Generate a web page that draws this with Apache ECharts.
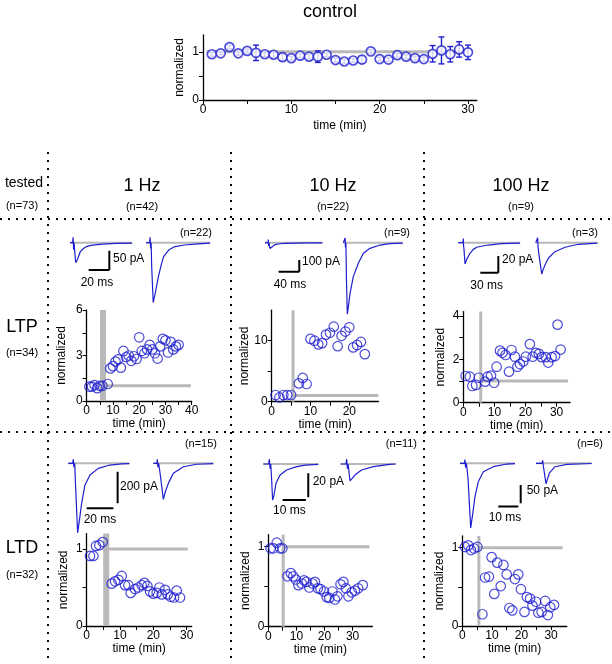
<!DOCTYPE html>
<html><head><meta charset="utf-8">
<script src="https://cdn.jsdelivr.net/npm/echarts@6/dist/echarts.min.js"></script>
<style>html,body{margin:0;padding:0;background:#fff}#c{width:612px;height:664px}</style>
</head><body><div id="c"></div>
<script>
const FONT = "'Liberation Sans', Arial, sans-serif";
const BLUE = '#1f1fcf';
const GRAY = '#b9b9b9';

// ---------- control ----------
const ctlTime = [1,2,3,4,5,6,7,8,9,10,11,12,13,14,15,16,17,18,19,20,21,22,23,24,25,26,27,28,29,30];
const ctlMean = [0.95,0.97,1.10,0.97,1.02,0.98,0.95,0.94,0.89,0.87,0.92,0.90,0.90,0.94,0.83,0.80,0.82,0.84,1.01,0.85,0.84,0.93,0.90,0.87,0.85,0.96,1.03,0.95,1.05,0.99];
const ctlErr  = [0.04,0.03,0.04,0.04,0.04,0.16,0.05,0.06,0.07,0.04,0.04,0.05,0.12,0.04,0.04,0.05,0.04,0.07,0.04,0.04,0.04,0.04,0.04,0.04,0.04,0.17,0.28,0.16,0.16,0.15];
const ctlRef  = [[0.4,1],[30,1]];

// ---------- LTP 1 Hz ----------
const ltp1Time = [1,2,3,4,5,6,8,9,10,11,12,13,14,15,16,17,18,19,20,21,22,23,24,25,26,27,28,29,30,31,32,33,34,35];
const ltp1Val  = [0.95,0.95,1.05,0.85,1.0,1.0,1.12,2.15,2.3,2.6,2.75,2.2,3.3,2.9,3.0,2.65,2.95,2.77,4.2,3.3,3.15,3.4,3.7,3.4,3.15,2.8,3.6,4.1,4.0,3.2,3.9,3.4,3.6,3.7];
// ---------- LTP 10 Hz ----------
const ltp10Time = [1,2,3,4,5,7,8,9,10,11,12,13,14,15,16,17,18,19,20,21,22,23,24];
const ltp10Val  = [1.1,0.7,1.1,1.1,1.1,3.0,3.9,2.9,10.3,10.0,9.4,9.6,11.0,11.3,12.3,9.1,10.8,11.5,12.2,8.9,9.3,9.8,7.8];
// ---------- LTP 100 Hz ----------
const ltp100Time = [0.75,2.1,2.9,4.1,5.0,7.0,7.8,8.9,9.9,10.7,11.8,12.6,13.6,14.7,15.5,16.6,17.4,18.2,19.3,20.1,21.4,22.3,23.3,24.3,25.2,26.5,27.3,28.4,29.5,30.3,31.3];
const ltp100Val  = [1.23,1.2,0.77,0.82,1.15,0.97,1.2,1.25,0.92,1.66,2.4,2.3,2.2,1.43,2.43,2.12,1.66,1.78,1.9,2.12,2.7,2.12,2.3,2.25,2.1,2.1,1.85,2.1,2.15,3.6,2.45];
// ---------- LTD 1 Hz ----------
const ltd1Time = [1,2,2.8,3.8,4.8,7.5,8.5,9.5,10.5,11.5,12.5,13.2,14.5,15.5,16.5,17.3,18.2,19,20,21,21.8,22.5,23.5,24.3,25.2,26.2,27,28];
const ltd1Val  = [0.91,0.91,1.04,1.05,1.09,0.55,0.58,0.6,0.65,0.53,0.53,0.43,0.48,0.5,0.53,0.56,0.52,0.45,0.42,0.43,0.5,0.41,0.47,0.41,0.38,0.37,0.46,0.37];
// ---------- LTD 10 Hz ----------
const ltd10Time = [0.8,1.8,3,4.2,5,6.8,8,8.9,9.8,10.7,11.9,12.7,13.6,14.6,15.8,16.6,17.6,18.6,19.8,20.8,21.7,22.8,23.7,24.6,25.7,26.7,27.6,28.5,29.7,30.8,32,33.6];
const ltd10Val  = [0.98,0.98,1.05,0.98,0.98,0.63,0.67,0.63,0.59,0.52,0.54,0.58,0.56,0.49,0.54,0.56,0.48,0.47,0.44,0.37,0.36,0.44,0.34,0.38,0.53,0.56,0.48,0.38,0.43,0.45,0.48,0.52];
// ---------- LTD 100 Hz ----------
const ltd100Time = [0.9,2,2.9,4,5.1,6.8,7.7,9,9.9,10.8,11.8,13,13.9,15,15.9,16.9,17.8,18.9,19.8,21,21.8,22.9,23.7,24.9,25.7,26.8,28,28.9,29.7,31];
const ltd100Val  = [1.01,1.03,0.97,0.99,1.01,0.15,0.62,0.63,0.88,0.41,0.81,0.51,0.78,0.66,0.23,0.2,0.6,0.66,0.47,0.18,0.37,0.35,0.26,0.31,0.17,0.18,0.32,0.14,0.24,0.27];

// reference lines (stimulation time, normalized = 1)
const ltp1VRef = [[6.2,0],[6.2,6]],   ltp1HRef = [[7.3,1],[39.7,1]];
const ltp10VRef = [[5.5,0],[5.5,15]], ltp10HRef = [[5.5,1],[27.5,1]];
const ltp100VRef = [[5.6,0],[5.6,4.2]], ltp100HRef = [[5.6,1],[33.7,1]];
const ltd1VRef = [[5.85,0],[5.85,1.2]], ltd1HRef = [[6.7,1],[30.3,1]];
const ltd10VRef = [[5.3,0],[5.3,1.15]], ltd10HRef = [[5.3,1],[36,1]];
const ltd100VRef = [[5.6,0],[5.6,1.15]], ltd100HRef = [[5.6,1],[33.9,1]];

// tick labels
const ctlXLabels = [0,10,20,30], ctlYLabels = [0,1];
const ltp1XLabels = [0,10,20,30,40], ltp1YLabels = [0,3,6];
const ltp10XLabels = [0,10,20], ltp10YLabels = [0,10];
const ltp100XLabels = [0,10,20,30], ltp100YLabels = [0,2,4];
const ltdXLabels = [0,10,20,30], ltdYLabels = [0,1];

// ---------- EPSC traces: [ms, pA] ----------
const ltp1Before = [[0,0],[2.5,0],[3,14],[3.5,-18],[4,0],[4.5,-20],[5.5,-52],[7,-45],[10,-23],[13,-15],[16,-10],[20,-7],[26,-5],[35,-3],[45,-2],[60,-1]];
const ltp1After  = [[0,0],[3.5,0],[4,14],[4.5,-15],[5,0],[5.5,-60],[7,-155],[9,-130],[12,-88],[15,-55],[17,-36],[22,-19],[27,-11],[37,-6],[50,-3],[62,-1]];
const ltp10Before = [[0,0],[6,0],[6.4,28],[7,-28],[8,0],[8.6,-30],[9.7,-49],[12,-35],[19,-17],[28,-9],[39,-5],[60,-3],[85,-2],[111,-1]];
const ltp10After  = [[0,0],[3,0],[3.5,40],[4,-40],[5,0],[6,-300],[7.7,-610],[10,-540],[13,-433],[19.3,-290],[29,-176],[38.7,-91],[51.6,-48],[71,-20],[90,-8],[115,-3]];
const ltp100Before = [[0,0],[7.8,0],[8.3,5],[8.8,-4],[9.5,-8],[11.2,-25.6],[14,-20],[19.5,-12.7],[25,-8],[30.7,-5.5],[40,-4],[50,-2.8],[72,-1],[103,-0.5]];
const ltp100After  = [[0,0],[2.8,0],[3.3,6],[3.8,-4],[5,-12],[10,-37.6],[12.5,-32],[15.5,-26.8],[21,-18.7],[32,-10.8],[49,-5.5],[71,-1.9],[103,-0.5]];
const ltd1Before = [[0,0],[3.3,0],[3.75,25],[4.2,-25],[4.8,0],[5.5,-150],[7,-440],[8.5,-350],[10,-253],[12.5,-137],[16.3,-74],[22.5,-32],[31,-11],[40,-4],[45.8,-2]];
const ltd1After  = [[0,0],[2.6,0],[3,25],[3.4,-25],[4,0],[5,-60],[7.5,-228],[9,-180],[11.25,-127],[15,-63],[22.5,-22],[32.5,-6],[45,-2]];
const ltd10Before = [[0,0],[2.3,0],[2.6,4],[2.9,-4],[3.2,0],[3.5,-10],[4,-30],[4.6,-26],[5.45,-16],[7.2,-9.2],[10,-5],[14.3,-2.2],[18,-1],[23.6,-0.3]];
const ltd10After  = [[0,0],[2.3,0],[2.6,4],[2.9,-4],[3.2,0],[3.5,-5],[4,-14],[5,-12],[6.2,-9],[9,-5],[14,-2.2],[21,-0.3],[23.6,0]];
const ltd100Before = [[0,0],[2.2,0],[2.5,10],[2.8,-12],[3.2,0],[4,-40],[5.35,-176],[6.3,-140],[7.5,-91],[9.15,-50],[11.65,-23],[16.65,-9.3],[23.35,-2],[27.5,-1]];
const ltd100After  = [[0,0],[3,0],[3.35,8],[3.7,-8],[4.1,-10],[5,-56],[6.65,-27],[9.5,-9.3],[15.35,-2.7],[27.85,-0.5]];

// scale bars [ms, pA]
const ltp1Bar = [20, 50], ltp10Bar = [40, 100], ltp100Bar = [30, 20];
const ltd1Bar = [20, 200], ltd10Bar = [10, 20], ltd100Bar = [10, 50];

// ---------- building ----------
const grids = [], xAxes = [], yAxes = [], series = [], graphics = [];
const axisLineStyle = {show:true, lineStyle:{color:'#000', width:1.3}};
const labelBase = {color:'#000', fontSize:12, fontFamily:FONT, margin:4};
const nameStyle = {color:'#000', fontSize:12, fontFamily:FONT};

function ticksFor(labels, step) {
  const out = [];
  for (let v = labels[0]; v <= labels[labels.length-1] + 1e-9; v += step) out.push(+v.toFixed(4));
  return out;
}

function addScatterPanel(p) {
  const gi = grids.length;
  grids.push({left:p.left, top:p.top, width:p.w, height:p.h});
  xAxes.push({gridIndex:gi, type:'value', min:0, max:p.xMax,
    name:'time (min)', nameLocation:'middle', nameGap:p.xGap || 17, nameTextStyle:nameStyle,
    axisLine:axisLineStyle, splitLine:{show:false},
    axisTick:{show:true, length:4, lineStyle:{color:'#000', width:1}, customValues:ticksFor(p.xLabels, p.xMinor)},
    axisLabel:Object.assign({}, labelBase, {customValues:p.xLabels})});
  yAxes.push({gridIndex:gi, type:'value', min:0, max:p.yMax,
    name:'normalized', nameLocation:'middle', nameGap:p.yGap || 19, nameTextStyle:nameStyle,
    axisLine:axisLineStyle, splitLine:{show:false},
    axisTick:{show:true, length:4, lineStyle:{color:'#000', width:1}, customValues:ticksFor(p.yLabels, p.yMinor)},
    axisLabel:Object.assign({}, labelBase, {customValues:p.yLabels})});
  if (p.vRef) series.push({type:'line', xAxisIndex:gi, yAxisIndex:gi, data:p.vRef, showSymbol:false, silent:true,
    lineStyle:{color:GRAY, width:p.vWidth}, z:1});
  if (p.hRef) series.push({type:'line', xAxisIndex:gi, yAxisIndex:gi, data:p.hRef, showSymbol:false, silent:true,
    lineStyle:{color:GRAY, width:3}, z:1});
  series.push({type:'scatter', xAxisIndex:gi, yAxisIndex:gi, symbol:'circle', symbolSize:p.symSize || 9.5,
    data:p.time.map((t,i)=>[t, p.val[i]]),
    itemStyle:{color:'rgba(0,0,0,0)', borderColor:BLUE, borderWidth:p.symBorder || 1.2}, z:5});
  return gi;
}

function addTracePanel(t) {
  const gi = grids.length;
  grids.push({left:t.x0, top:t.y0 - t.pAmax*t.ppa, width:t.tMax*t.pms, height:(t.pAmax - t.pAmin)*t.ppa});
  xAxes.push({gridIndex:gi, type:'value', min:0, max:t.tMax, show:false});
  yAxes.push({gridIndex:gi, type:'value', min:t.pAmin, max:t.pAmax, show:false});
  const shift = (arr, off) => arr.map(d => [d[0] + off, d[1]]);
  const end1 = t.before[t.before.length-1][0], end2 = t.after[t.after.length-1][0];
  const line = (data, color, width, z) => ({type:'line', xAxisIndex:gi, yAxisIndex:gi, data, showSymbol:false,
    silent:true, animation:false, lineStyle:{color, width}, z});
  series.push(line([[0,0],[end1,0]], GRAY, 2, 2));
  series.push(line([[t.off2,0],[t.off2 + end2,0]], GRAY, 2, 2));
  series.push(line(t.before, BLUE, 1.2, 3));
  series.push(line(shift(t.after, t.off2), BLUE, 1.2, 3));
  // scale bar
  const [ms, pa] = t.bar;
  series.push(line([[t.hx, t.hy],[t.hx + ms, t.hy]], '#000', 2, 4));
  series.push(line([[t.vx, t.vy],[t.vx, t.vy - pa]], '#000', 2, 4));
  graphics.push({type:'text', left:t.paX, top:t.paY - 8, style:{text:pa + ' pA', fill:'#000', font:'12px ' + FONT}});
  graphics.push({type:'text', x:t.msX, y:t.msY, style:{text:ms + ' ms', fill:'#000', font:'12px ' + FONT, textAlign:'center', textVerticalAlign:'middle'}});
  graphics.push({type:'text', x:t.nX, y:t.nY, style:{text:t.nText, fill:'#000', font:'11px ' + FONT, textAlign:'right', textVerticalAlign:'middle'}});
}

// control grid
(function(){
  const gi = grids.length;
  grids.push({left:203, top:35, width:273.8, height:65});
  xAxes.push({gridIndex:gi, type:'value', min:0, max:31, name:'time (min)', nameLocation:'middle', nameGap:20,
    nameTextStyle:nameStyle, axisLine:axisLineStyle, splitLine:{show:false},
    axisTick:{show:true, length:4, lineStyle:{color:'#000'}, customValues:ticksFor(ctlXLabels,5)},
    axisLabel:Object.assign({}, labelBase, {customValues:ctlXLabels})});
  yAxes.push({gridIndex:gi, type:'value', min:0, max:1.35, name:'normalized', nameLocation:'middle', nameGap:17,
    nameTextStyle:nameStyle, axisLine:axisLineStyle, splitLine:{show:false},
    axisTick:{show:true, length:4, lineStyle:{color:'#000'}, customValues:ticksFor(ctlYLabels,0.5)},
    axisLabel:Object.assign({}, labelBase, {customValues:ctlYLabels})});
  series.push({type:'line', xAxisIndex:gi, yAxisIndex:gi, data:ctlRef, showSymbol:false, silent:true, lineStyle:{color:GRAY, width:3}, z:1});
  series.push({type:'custom', xAxisIndex:gi, yAxisIndex:gi, silent:true, z:4,
    data: ctlTime.map((t,i)=>[t, ctlMean[i]-ctlErr[i], ctlMean[i]+ctlErr[i]]),
    encode:{x:0, y:[1,2]},
    renderItem:(params, api)=>{
      const lo = api.coord([api.value(0), api.value(1)]);
      const hi = api.coord([api.value(0), api.value(2)]);
      const w = 3, st = {stroke:BLUE, lineWidth:1.4};
      return {type:'group', children:[
        {type:'line', shape:{x1:lo[0], y1:lo[1], x2:hi[0], y2:hi[1]}, style:st},
        {type:'line', shape:{x1:lo[0]-w, y1:lo[1], x2:lo[0]+w, y2:lo[1]}, style:st},
        {type:'line', shape:{x1:hi[0]-w, y1:hi[1], x2:hi[0]+w, y2:hi[1]}, style:st}]};
    }});
  series.push({type:'scatter', xAxisIndex:gi, yAxisIndex:gi, symbol:'circle', symbolSize:9,
    data: ctlTime.map((t,i)=>[t, ctlMean[i]]),
    itemStyle:{color:'#ffffff', borderColor:BLUE, borderWidth:1.7}, z:5});
})();

addScatterPanel({left:86.7, top:310, w:105, h:91, xMax:40, yMax:6, xLabels:ltp1XLabels, xMinor:5, yLabels:ltp1YLabels, yMinor:1.5,
  time:ltp1Time, val:ltp1Val, vRef:ltp1VRef, vWidth:6, hRef:ltp1HRef, yGap:19});
addScatterPanel({left:271.7, top:310.2, w:106.7, h:91.5, xMax:27.5, yMax:15, xLabels:ltp10XLabels, xMinor:5, yLabels:ltp10YLabels, yMinor:5,
  time:ltp10Time, val:ltp10Val, vRef:ltp10VRef, vWidth:3, hRef:ltp10HRef, yGap:19});
addScatterPanel({left:463.3, top:311.6, w:106.7, h:91.1, xMax:34.3, yMax:4.2, xLabels:ltp100XLabels, xMinor:5, yLabels:ltp100YLabels, yMinor:1,
  time:ltp100Time, val:ltp100Val, vRef:ltp100VRef, vWidth:3, hRef:ltp100HRef, yGap:17});
addScatterPanel({left:86.7, top:533.6, w:105, h:92.4, xMax:31.5, yMax:1.2, xLabels:ltdXLabels, xMinor:5, yLabels:ltdYLabels, yMinor:0.5,
  time:ltd1Time, val:ltd1Val, vRef:ltd1VRef, vWidth:6, hRef:ltd1HRef, yGap:17});
addScatterPanel({left:268.3, top:534.7, w:104, h:92, xMax:37, yMax:1.15, xLabels:ltdXLabels, xMinor:5, yLabels:ltdYLabels, yMinor:0.5,
  time:ltd10Time, val:ltd10Val, vRef:ltd10VRef, vWidth:3, hRef:ltd10HRef, yGap:17});
addScatterPanel({left:462.3, top:536, w:104.5, h:90, xMax:35.3, yMax:1.15, xLabels:ltdXLabels, xMinor:5, yLabels:ltdYLabels, yMinor:0.5,
  time:ltd100Time, val:ltd100Val, vRef:ltd100VRef, vWidth:3, hRef:ltd100HRef, yGap:17});

// trace panels
addTracePanel({x0:70, y0:242.7, pms:1.035, ppa:0.386, tMax:137, pAmin:-165, pAmax:20,
  before:ltp1Before, after:ltp1After, off2:73.4, bar:ltp1Bar, hx:18, hy:-70.7, vx:38, vy:-20.7,
  paX:113, paY:260.7, msX:97, msY:282.7, nX:212, nY:232.7, nText:'(n=22)'});
addTracePanel({x0:265, y0:242.7, pms:0.517, ppa:0.117, tMax:280, pAmin:-640, pAmax:60,
  before:ltp10Before, after:ltp10After, off2:151.5, bar:ltp10Bar, hx:26.3, hy:-248, vx:66.3, vy:-148,
  paX:302, paY:264, msX:290, msY:285, nX:410, nY:232.7, nText:'(n=9)'});
addTracePanel({x0:458.3, y0:242.7, pms:0.6, ppa:0.833, tMax:236, pAmin:-40, pAmax:10,
  before:ltp100Before, after:ltp100After, off2:129, bar:ltp100Bar, hx:36.7, hy:-36, vx:66.7, vy:-16,
  paX:502, paY:261.7, msX:486.7, msY:286, nX:598, nY:232.7, nText:'(n=3)'});
addTracePanel({x0:68.3, y0:463.3, pms:1.333, ppa:0.158, tMax:111.5, pAmin:-450, pAmax:30,
  before:ltd1Before, after:ltd1After, off2:63.8, bar:ltd1Bar, hx:13.8, hy:-285, vx:37, vy:-53,
  paX:120, paY:488.3, msX:100, msY:519.3, nX:217, nY:444, nText:'(n=15)'});
addTracePanel({x0:263.3, y0:464, pms:2.33, ppa:1.2, tMax:66.4, pAmin:-33, pAmax:6,
  before:ltd10Before, after:ltd10After, off2:33.2, bar:ltd10Bar, hx:8.3, hy:-30, vx:19.3, vy:-7.75,
  paX:312.7, paY:484, msX:289.3, msY:510.7, nX:417, nY:444, nText:'(n=11)'});
addTracePanel({x0:460, y0:463.3, pms:2, ppa:0.367, tMax:72, pAmin:-185, pAmax:15,
  before:ltd100Before, after:ltd100After, off2:38, bar:ltd100Bar, hx:19.15, hy:-118, vx:30.35, vy:-59,
  paX:526.7, paY:492.3, msX:505, msY:517.3, nX:603, nY:444, nText:'(n=6)'});

// dotted separators
const dot = {stroke:'#000', lineWidth:2, lineDash:[2,6]};
[[0,219,612,219],[0,432,612,432],[48,152,48,664],[231,152,231,664],[424,152,424,664]].forEach(s=>{
  graphics.push({type:'line', shape:{x1:s[0], y1:s[1], x2:s[2], y2:s[3]}, style:dot, silent:true});
});

// headers & labels
const txt = (x, y, text, size) => graphics.push({type:'text', x, y, style:{text, fill:'#000',
  font: size + 'px ' + FONT, textAlign:'center', textVerticalAlign:'middle'}});
txt(330, 12, 'control', 18);
txt(24, 183, 'tested', 14);
txt(22, 206, '(n=73)', 11);
txt(142, 186, '1 Hz', 18);   txt(142, 207, '(n=42)', 11);
txt(333, 186, '10 Hz', 18);  txt(333, 207, '(n=22)', 11);
txt(521, 186, '100 Hz', 18); txt(521, 207, '(n=9)', 11);
txt(22, 327, 'LTP', 18);     txt(22, 353, '(n=34)', 11);
txt(22, 548, 'LTD', 18);     txt(22, 575, '(n=32)', 11);

const chart = echarts.init(document.getElementById('c'), null, {renderer:'canvas'});
chart.setOption({
  animation:false,
  backgroundColor:'#fff',
  textStyle:{fontFamily:FONT},
  grid:grids, xAxis:xAxes, yAxis:yAxes, series, graphic:graphics
});
</script>
</body></html>
